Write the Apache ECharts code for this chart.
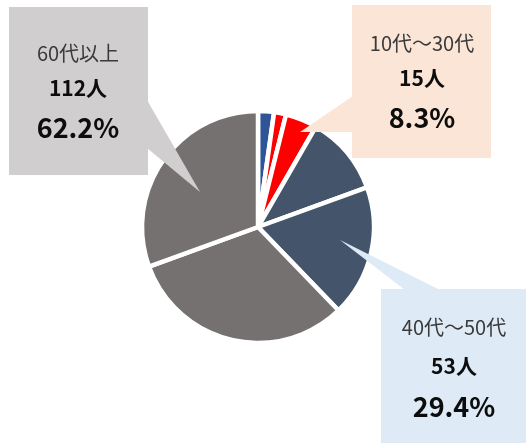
<!DOCTYPE html>
<html>
<head>
<meta charset="utf-8">
<script src="https://cdn.jsdelivr.net/npm/echarts@6/dist/echarts.min.js"></script>
<style>
  html, body { margin: 0; padding: 0; background: #fff; }
  #chart { width: 526px; height: 443px; }
</style>
</head>
<body>
<div id="chart"></div>
<script>
// slices, clockwise from 12 o'clock
const ageLabels = ['10代', '20代', '30代', '40代', '50代', '60代', '70代以上'];
const ageCounts = [4, 3, 8, 20, 33, 57, 55];

// callout groups (index into the slices above)
const groupNames = ['10代～30代', '40代～50代', '60代以上'];
const groupSlices = [[0, 1, 2], [3, 4], [5, 6]];

const sliceColors = ['#2F5597', '#FF0000', '#FF0000', '#44546A', '#44546A', '#767171', '#767171'];
const FONT = '"Noto Sans CJK JP", "Noto Sans", sans-serif';

const total = ageCounts.reduce((a, b) => a + b, 0);
const groupCounts = groupSlices.map(idx => idx.reduce((s, i) => s + ageCounts[i], 0));
const groupPct = groupCounts.map(c => (c / total * 100).toFixed(1) + '%');

// callout layout: box, pointer wedge, text centre x and line y's
const callouts = [
  { fill: '#FBE5D6', box: [352, 5, 139, 153], wedge: [[353, 96], [300, 132], [353, 132]], cx: 422, ys: [43, 78, 118] },
  { fill: '#DEEBF7', box: [381, 289, 145, 154], wedge: [[340, 240], [440, 290], [405, 290]], cx: 454, ys: [327, 366, 407] },
  { fill: '#D0CECE', box: [9, 7, 139, 168], wedge: [[147, 100], [200, 192], [147, 148]], cx: 78, ys: [53, 88, 128] }
];

const graphics = [];
callouts.forEach((c, i) => {
  graphics.push({
    type: 'rect', z: 10,
    shape: { x: c.box[0], y: c.box[1], width: c.box[2], height: c.box[3] },
    style: { fill: c.fill }
  });
  graphics.push({
    type: 'polygon', z: 10,
    shape: { points: c.wedge },
    style: { fill: c.fill }
  });
  const lines = [
    { text: groupNames[i], font: 'normal 20px ' + FONT, color: '#3A3A3A' },
    { text: groupCounts[i] + '人', font: 'bold 21px ' + FONT, color: '#0D0D0D' },
    { text: groupPct[i], font: 'bold 27px ' + FONT, color: '#0D0D0D' }
  ];
  lines.forEach((l, k) => {
    graphics.push({
      type: 'text', z: 11,
      x: c.cx, y: c.ys[k],
      style: {
        text: l.text, font: l.font, fill: l.color,
        textAlign: 'center', textVerticalAlign: 'middle'
      }
    });
  });
});

const chart = echarts.init(document.getElementById('chart'), null, { renderer: 'canvas' });
chart.setOption({
  backgroundColor: '#fff',
  animation: false,
  series: [{
    type: 'pie',
    center: [258, 227],
    radius: [0, 116],
    startAngle: 90,
    clockwise: true,
    label: { show: false },
    labelLine: { show: false },
    emphasis: { disabled: true },
    itemStyle: { borderColor: '#fff', borderWidth: 4.5 },
    data: ageLabels.map((name, i) => ({
      name: name,
      value: ageCounts[i],
      itemStyle: { color: sliceColors[i] }
    }))
  }],
  graphic: graphics
});
</script>
</body>
</html>
